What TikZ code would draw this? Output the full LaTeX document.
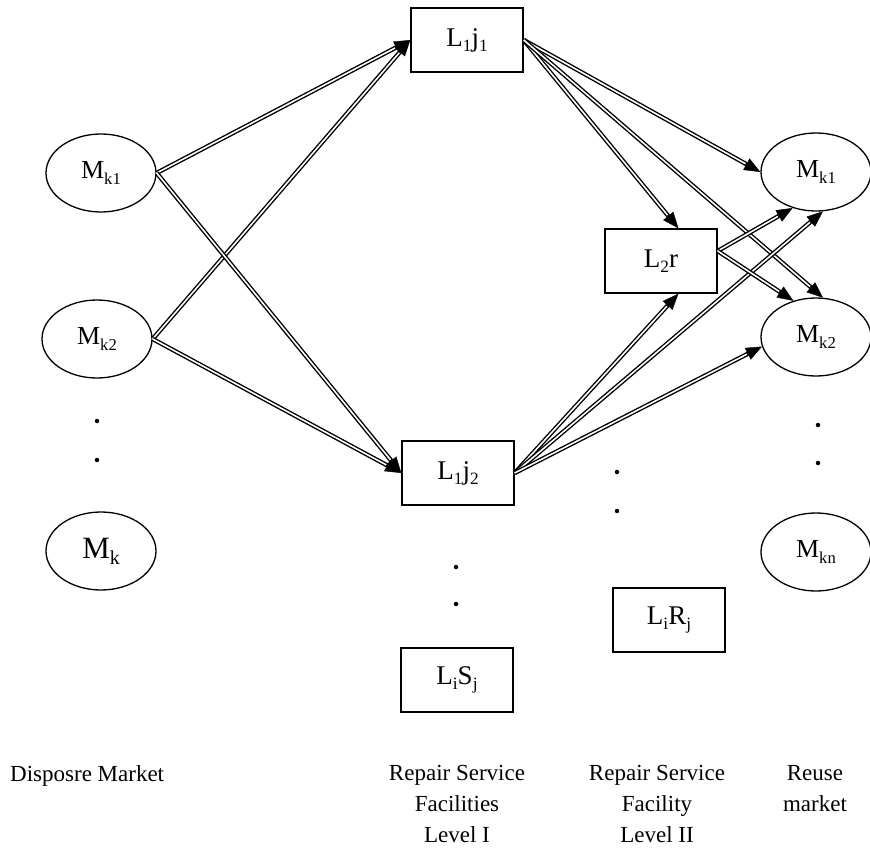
\documentclass[tikz,border=0pt]{standalone}
\usepackage{fontspec}
\setmainfont{Liberation Serif}
\usepackage{graphicx}
\usetikzlibrary{arrows.meta,shapes.geometric}

% lowered, reduced index text (as in M_k1, L_1 j_1)
\newcommand\lowsub[1]{\raisebox{-0.2em}{\scalebox{0.64}{#1}}}

\tikzset{
  box/.style={draw, line width=1.4pt, minimum width=112pt, minimum height=64pt,
    inner sep=0pt, font=\fontsize{27}{30}\selectfont},
  mkt/.style={draw, ellipse, line width=1.3pt, minimum width=110pt, minimum height=78pt,
    inner sep=0pt, font=\fontsize{26}{30}\selectfont},
  flow/.style={line width=4.4pt,
    -{Triangle[length=16pt,width=13pt,line width=0.4pt]},
    postaction={draw=white, line width=1.6pt, shorten >=17pt, -}},
  dot/.style={circle, fill=black, inner sep=0pt, minimum size=4.5pt},
  caption/.style={font=\fontsize{23}{31}\selectfont, align=center, inner sep=0pt, anchor=north}
}

\begin{document}
\begin{tikzpicture}[x=1pt, y=-1pt]
  \useasboundingbox (0,0) rectangle (870,848);

  % disposal markets
  \node[mkt] (d1) at (101,173) {M\lowsub{k1}};
  \node[mkt] (d2) at (97,339) {M\lowsub{k2}};
  \node[mkt, font=\fontsize{31}{34}\selectfont] (d3) at (101,551) {M\lowsub{k}};

  % level I repair facilities
  \node[box] (a1) at (467,40) {L\lowsub{1}j\lowsub{1}};
  \node[box] (a2) at (458,473) {L\lowsub{1}j\lowsub{2}};
  \node[box] (as) at (457,680) {L\lowsub{i}S\lowsub{j}};

  % level II repair facilities
  \node[box] (b1) at (661,261) {L\lowsub{2}r};
  \node[box] (bs) at (669,620) {L\lowsub{i}R\lowsub{j}};

  % reuse markets
  \node[mkt] (r1) at (816,172) {M\lowsub{k1}};
  \node[mkt] (r2) at (816,337) {M\lowsub{k2}};
  \node[mkt] (r3) at (816,552) {M\lowsub{kn}};

  % flows
  \draw[flow] (d1.east) -- (a1.west);
  \draw[flow] (d2.east) -- (a1.west);
  \draw[flow] (d1.east) -- (a2.west);
  \draw[flow] (d2.east) -- (a2.west);

  \draw[flow] (a1.east) -- (r1.west);
  \draw[flow] (a1.east) -- (b1.62);
  \draw[flow] (a1.east) -- (r2.80);

  \draw[flow] (a2.east) -- (b1.298);
  \draw[flow] (a2.east) -- (r1.280);
  \draw[flow] (a2.east) -- (r2.190);

  \draw[flow] (b1.10) -- (r1.237);
  \draw[flow] (b1.10) -- (r2.122);

  % ellipsis dots
  \node[dot] (e1) at (97,421) {};
  \node[dot] (e2) at (97,460) {};
  \node[dot] (e3) at (456,567) {};
  \node[dot] (e4) at (456,604) {};
  \node[dot] (e5) at (617,472) {};
  \node[dot] (e6) at (617,511) {};
  \node[dot] (e7) at (818,425) {};
  \node[dot] (e8) at (818,463) {};

  % column captions
  \node[caption, anchor=north west] (c1) at (10,765) {Disposre Market};
  \node[caption] (c2) at (457,765) {Repair Service\\Facilities\\Level I};
  \node[caption] (c3) at (657,765) {Repair Service\\Facility\\Level II};
  \node[caption] (c4) at (815,765) {Reuse\\market};
\end{tikzpicture}
\end{document}
